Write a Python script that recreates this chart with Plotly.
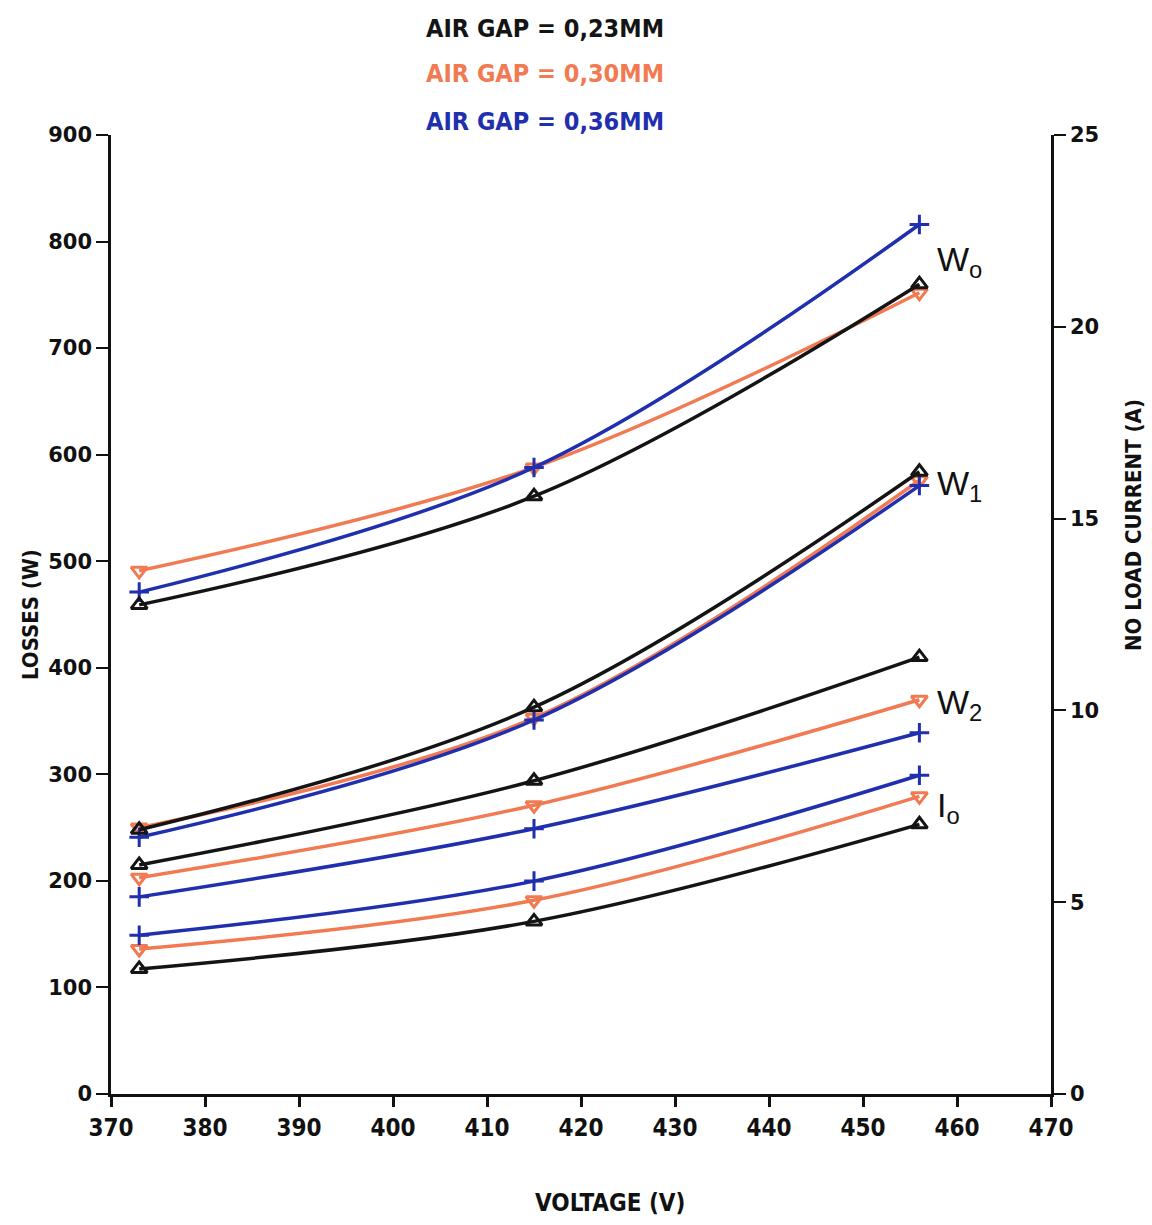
import plotly.graph_objects as go

# Supply voltage (V) at the three measuring points
voltage = [373, 415, 456]

# Air gaps studied
air_gaps = ["0,23MM", "0,30MM", "0,36MM"]

# No-load losses W0 (W)
w0_023 = [459, 561, 760]
w0_030 = [491, 588, 752]
w0_036 = [471, 588, 816]

# Losses W1 (W)
w1_023 = [248, 363, 584]
w1_030 = [250, 353, 576]
w1_036 = [241, 351, 571]

# Losses W2 (W)
w2_023 = [215, 294, 410]
w2_030 = [203, 271, 370]
w2_036 = [185, 249, 339]

# No-load current I0 (A)
i0_023 = [3.26, 4.50, 7.03]
i0_030 = [3.78, 5.05, 7.76]
i0_036 = [4.14, 5.55, 8.31]

colors = ["#141414", "#f27a52", "#1f2fae"]
symbols = ["triangle-up-open", "triangle-down-open", "cross-thin-open"]

loss_sets = [
    [w0_023, w0_030, w0_036],
    [w1_023, w1_030, w1_036],
    [w2_023, w2_030, w2_036],
]
current_set = [i0_023, i0_030, i0_036]

fig = go.Figure()


def add_curve(values, k, axis):
    fig.add_trace(go.Scatter(
        x=voltage, y=values, yaxis=axis,
        mode="lines+markers",
        line=dict(color=colors[k], width=3.5, shape="spline", smoothing=1.0),
        marker=dict(symbol=symbols[k], size=14, color=colors[k],
                    line=dict(color=colors[k], width=3)),
        showlegend=False, hoverinfo="skip",
    ))


for group in loss_sets:
    for k in (1, 2, 0):
        add_curve(group[k], k, "y")
for k in (1, 2, 0):
    add_curve(current_set[k], k, "y2")

narrow = "DejaVu Sans Condensed, Liberation Sans Narrow, DejaVu Sans"
tick_font = dict(family="DejaVu Sans, Arial", size=21, color="#111", weight="bold")
xtick_font = dict(family=narrow, size=24, color="#111", weight="bold")

fig.update_layout(
    width=1152, height=1225,
    margin=dict(l=111, r=101, t=135, b=131),
    paper_bgcolor="white", plot_bgcolor="white",
    xaxis=dict(range=[370, 470], dtick=10, tick0=370, showgrid=False, zeroline=False,
               showline=True, linecolor="#111", linewidth=2.5,
               ticks="outside", ticklen=10, tickwidth=2.5, tickcolor="#111",
               tickfont=xtick_font),
    yaxis=dict(range=[0, 900], dtick=100, showgrid=False, zeroline=False,
               showline=True, linecolor="#111", linewidth=2.5,
               ticks="outside", ticklen=12, tickwidth=2, tickcolor="#111",
               tickfont=tick_font),
    yaxis2=dict(range=[0, 25], dtick=5, overlaying="y", side="right",
                showgrid=False, zeroline=False,
                showline=True, linecolor="#111", linewidth=2.5,
                ticks="outside", ticklen=12, tickwidth=2, tickcolor="#111",
                tickfont=tick_font),
)

annotations = []

# Air gap key at the top
for k, (gap, py) in enumerate(zip(air_gaps, [28, 74, 121])):
    annotations.append(dict(
        text=f"AIR GAP = {gap}", xref="paper", yref="paper",
        x=(545 - 111) / 940, y=(1094 - py) / 959,
        xanchor="center", yanchor="middle", showarrow=False,
        font=dict(family=narrow, size=25, color=colors[k], weight="bold"),
    ))

# Axis titles
annotations.append(dict(
    text="LOSSES (W)", xref="paper", yref="paper",
    x=(30 - 111) / 940, y=(1094 - 615) / 959, textangle=-90,
    xanchor="center", yanchor="middle", showarrow=False,
    font=dict(family=narrow, size=22, color="#111", weight="bold"),
))
annotations.append(dict(
    text="NO LOAD CURRENT (A)", xref="paper", yref="paper",
    x=(1133 - 111) / 940, y=(1094 - 525) / 959, textangle=-90,
    xanchor="center", yanchor="middle", showarrow=False,
    font=dict(family=narrow, size=22, color="#111", weight="bold"),
))
annotations.append(dict(
    text="VOLTAGE (V)", xref="paper", yref="paper",
    x=(610 - 111) / 940, y=(1094 - 1203) / 959,
    xanchor="center", yanchor="middle", showarrow=False,
    font=dict(family=narrow, size=24, color="#111", weight="bold"),
))

# Curve family labels
curve_labels = [("W<sub>o</sub>", 262), ("W<sub>1</sub>", 485),
                ("W<sub>2</sub>", 705), ("I<sub>o</sub>", 808)]
for text, py in curve_labels:
    annotations.append(dict(
        text=text, xref="paper", yref="paper",
        x=(935 - 111) / 940, y=(1094 - py) / 959,
        xanchor="left", yanchor="middle", showarrow=False,
        font=dict(family="Liberation Sans, Arial", size=34, color="#111"),
    ))

fig.update_layout(annotations=annotations)

fig.write_html("out.html")
